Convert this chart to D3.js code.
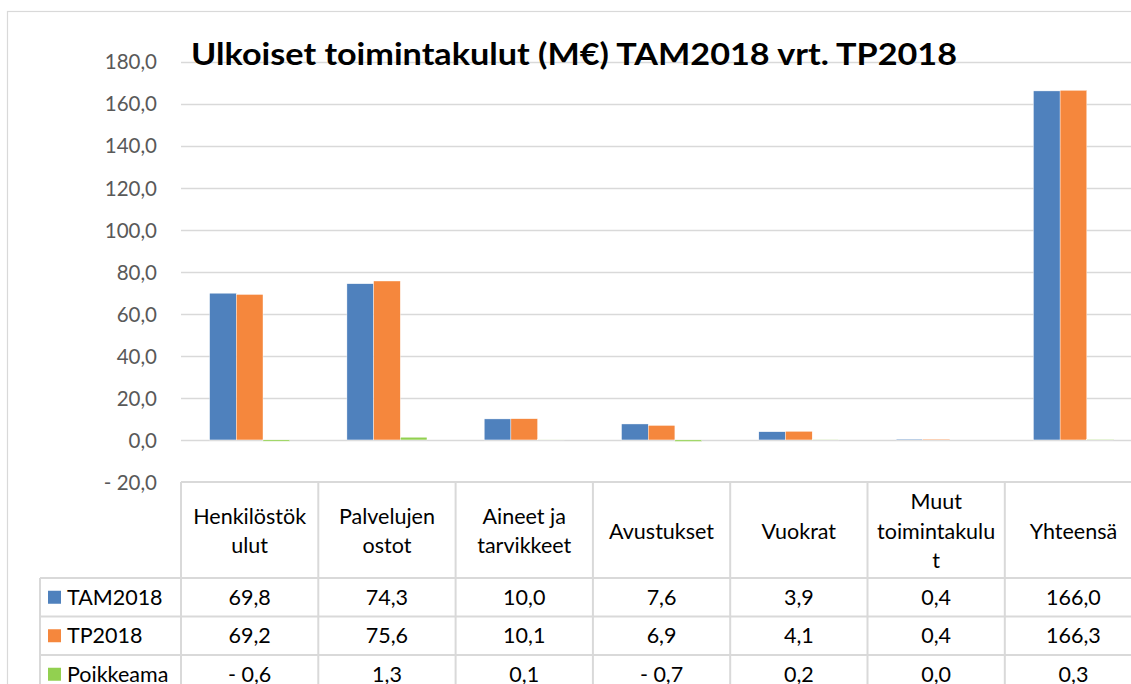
<!DOCTYPE html>
<html>
<head>
<meta charset="utf-8">
<script src="https://cdn.jsdelivr.net/npm/d3@7"></script>
<style>
  html, body { margin: 0; padding: 0; background: #fff; overflow: hidden; }
  svg { display: block; }
</style>
</head>
<body>
<svg id="chart" width="1131" height="684"></svg>
<script>
// ---- data ----
const title = "Ulkoiset toimintakulut (M€) TAM2018 vrt. TP2018";
const categories = ["Henkilöstökulut", "Palvelujen ostot", "Aineet ja tarvikkeet", "Avustukset", "Vuokrat", "Muut toimintakulut", "Yhteensä"];
const categoryLabelLines = [["Henkilöstök", "ulut"], ["Palvelujen", "ostot"], ["Aineet ja", "tarvikkeet"], ["Avustukset"], ["Vuokrat"], ["Muut", "toimintakulu", "t"], ["Yhteensä"]];
const seriesNames = ["TAM2018", "TP2018", "Poikkeama"];
const tam2018 = [69.8, 74.3, 10.0, 7.6, 3.9, 0.4, 166.0];
const tp2018 = [69.2, 75.6, 10.1, 6.9, 4.1, 0.4, 166.3];
const poikkeama = [-0.6, 1.3, 0.1, -0.7, 0.2, 0.0, 0.3];
const yTicks = [-20, 0, 20, 40, 60, 80, 100, 120, 140, 160, 180];
const seriesColors = ["#4F81BD", "#F5873D", "#92D050"];

const seriesValues = [tam2018, tp2018, poikkeama];

// ---- layout ----
const svg = d3.select("#chart");
const plotLeft = 181, bandW = 137.3;
const plotRight = plotLeft + bandW * categories.length;
const yTop = 61.5, yBottom = 482;
const gridColor = "#d9d9d9";
const fontFam = "Lato, 'Open Sans', sans-serif";

const fmt = v => {
  const s = Math.abs(v).toFixed(1).replace(".", ",");
  return v < -0.00001 ? "- " + s : s;
};

const x = d3.scaleBand().domain(categories).range([plotLeft, plotRight]).paddingInner(0).paddingOuter(0);
const x1 = d3.scaleBand().domain(seriesNames).range([0, bandW * 0.583]).padding(0);
const y = d3.scaleLinear().domain([-20, 180]).range([yBottom, yTop]);

// outer chart border
svg.append("rect").attr("x", 7.5).attr("y", 11.5).attr("width", 1200).attr("height", 800)
  .attr("fill", "#fff").attr("stroke", gridColor).attr("stroke-width", 1.2);

// gridlines
svg.append("g").selectAll("line").data(yTicks.filter(t => t > -20)).join("line")
  .attr("x1", plotLeft).attr("x2", plotRight)
  .attr("y1", d => Math.round(y(d)) + 0.5).attr("y2", d => Math.round(y(d)) + 0.5)
  .attr("stroke", gridColor).attr("stroke-width", 1.3);

// y axis labels
const yAxis = d3.axisLeft(y).tickValues(yTicks).tickFormat(fmt).tickSize(0).tickPadding(0);
const gy = svg.append("g").attr("transform", `translate(157,0)`).call(yAxis);
gy.select(".domain").remove();
gy.selectAll("text").attr("font-family", fontFam).attr("font-size", 20.5).attr("fill", "#595959")
  .attr("dy", "0.36em");

// title
svg.append("text").attr("x", 191).attr("y", 65).attr("font-family", fontFam).attr("font-weight", 700)
  .attr("font-size", 31).attr("fill", "#000").attr("textLength", 766).attr("lengthAdjust", "spacingAndGlyphs")
  .text(title);

// bars
const groupOffset = (bandW - bandW * 0.583) / 2;
const barG = svg.append("g");
seriesNames.forEach((name, si) => {
  barG.append("g").selectAll("rect").data(categories).join("rect")
    .attr("x", c => x(c) + groupOffset + x1(name))
    .attr("width", x1.bandwidth())
    .attr("y", (c, i) => y(Math.max(0, seriesValues[si][i])))
    .attr("height", (c, i) => Math.abs(y(seriesValues[si][i]) - y(0)))
    .attr("fill", seriesColors[si])
    .attr("stroke", "#ffffff").attr("stroke-width", 0.4);
});

// data table
const headerTop = 482, headerBottom = 578, rowH = 38.5;
const tableG = svg.append("g");
const lineColor = "#d9d9d9";
// horizontal lines
tableG.append("line").attr("x1", plotLeft).attr("x2", 1140).attr("y1", headerTop).attr("y2", headerTop)
  .attr("stroke", lineColor).attr("stroke-width", 2);
[0, 1, 2, 3].forEach(r => {
  const yy = headerBottom + r * rowH;
  tableG.append("line").attr("x1", 40).attr("x2", 1140).attr("y1", yy).attr("y2", yy)
    .attr("stroke", lineColor).attr("stroke-width", 2);
});
// vertical lines
d3.range(categories.length + 1).forEach(i => {
  const xx = plotLeft + i * bandW;
  tableG.append("line").attr("x1", xx).attr("x2", xx).attr("y1", headerTop).attr("y2", 700)
    .attr("stroke", lineColor).attr("stroke-width", 2);
});
tableG.append("line").attr("x1", 40).attr("x2", 40).attr("y1", headerBottom).attr("y2", 700)
  .attr("stroke", lineColor).attr("stroke-width", 2);

// header labels
categories.forEach((c, i) => {
  const lines = categoryLabelLines[i];
  const cx = x(c) + bandW / 2;
  const lh = 29.5;
  const cy = (headerTop + headerBottom) / 2 + 1;
  const t = tableG.append("text").attr("font-family", fontFam).attr("font-size", 21.5).attr("fill", "#000")
    .attr("text-anchor", "middle");
  lines.forEach((ln, k) => {
    t.append("tspan").attr("x", cx).attr("y", cy + (k - (lines.length - 1) / 2) * lh).attr("dy", "0.36em").text(ln);
  });
});

// rows
seriesNames.forEach((name, si) => {
  const cy = headerBottom + si * rowH + rowH / 2;
  tableG.append("rect").attr("x", 48).attr("y", cy - 6.5).attr("width", 13).attr("height", 13).attr("fill", seriesColors[si]);
  tableG.append("text").attr("x", 67).attr("y", cy).attr("dy", "0.36em").attr("font-family", fontFam)
    .attr("font-size", 21.5).attr("fill", "#000").text(name);
  categories.forEach((c, i) => {
    tableG.append("text").attr("x", x(c) + bandW / 2).attr("y", cy).attr("dy", "0.36em")
      .attr("text-anchor", "middle").attr("font-family", fontFam).attr("font-size", 21.5).attr("fill", "#000")
      .text(fmt(seriesValues[si][i]));
  });
});
</script>
</body>
</html>
